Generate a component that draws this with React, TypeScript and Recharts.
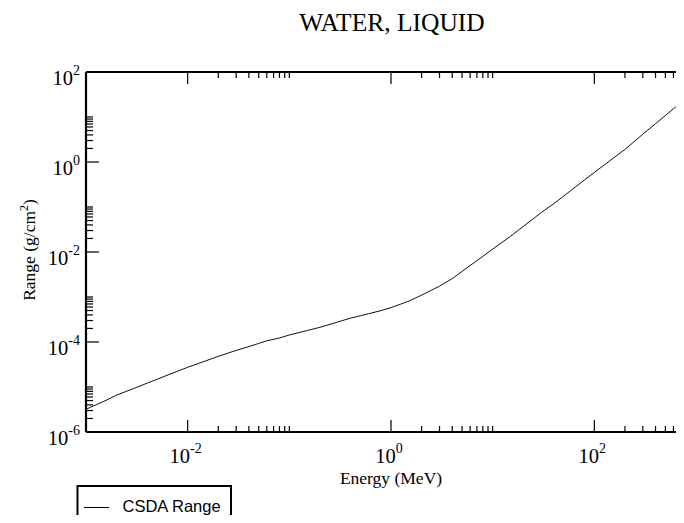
import React from 'react';
import { LineChart, Line, XAxis, YAxis } from 'recharts';

// Energy (MeV) and CSDA range (g/cm^2)
const energies = [
  0.001, 0.0015, 0.002, 0.003, 0.004, 0.005, 0.006, 0.008,
  0.01, 0.015, 0.02, 0.03, 0.04, 0.05, 0.06, 0.08,
  0.1, 0.15, 0.2, 0.3, 0.4, 0.5, 0.6, 0.8,
  1, 1.5, 2, 3, 4, 5, 6, 8,
  10, 15, 20, 30, 40, 50, 60, 80,
  100, 150, 200, 300, 400, 500, 600, 800, 1000,
];
const csdaRange = [
  3.2e-6, 4.8e-6, 6.6e-6, 9.4e-6, 1.22e-5, 1.48e-5, 1.75e-5, 2.25e-5,
  2.74e-5, 3.8e-5, 4.8e-5, 6.5e-5, 7.9e-5, 9.3e-5, 1.06e-4, 1.23e-4,
  1.43e-4, 1.8e-4, 2.12e-4, 2.79e-4, 3.39e-4, 3.83e-4, 4.24e-4, 5.0e-4,
  5.8e-4, 8.1e-4, 1.1e-3, 1.74e-3, 2.56e-3, 3.7e-3, 5.0e-3, 8.0e-3,
  1.16e-2, 2.24e-2, 3.7e-2, 7.5e-2, 0.119, 0.175, 0.241, 0.4,
  0.586, 1.17, 1.9, 4.15, 7.1, 10.8, 15.2, 26.1, 39.8,
];

const xMajorTicks = [0.01, 1, 100];
const xMinorTicks = [
  0.02, 0.03, 0.04, 0.05, 0.06, 0.07, 0.08, 0.09, 0.1,
  2, 3, 4, 5, 6, 7, 8, 9, 10,
  200, 300, 400, 500, 600, 700, 800, 900, 1000,
];
const yMajorTicks = [1e-6, 1e-4, 1e-2, 1, 100];
const yMinorTicks = [
  2e-6, 3e-6, 4e-6, 5e-6, 6e-6, 7e-6, 8e-6, 9e-6, 1e-5,
  2e-4, 3e-4, 4e-4, 5e-4, 6e-4, 7e-4, 8e-4, 9e-4, 1e-3,
  2e-2, 3e-2, 4e-2, 5e-2, 6e-2, 7e-2, 8e-2, 9e-2, 1e-1,
  2, 3, 4, 5, 6, 7, 8, 9, 10,
];

const title = 'WATER, LIQUID';
const xLabel = 'Energy (MeV)';
const yLabelMain = 'Range (g/cm';
const yLabelSup = '2';
const yLabelEnd = ')';
const seriesName = 'CSDA Range';

const data = energies.map((e, i) => ({ e, r: csdaRange[i] }));
const xTicks = [...xMajorTicks, ...xMinorTicks].sort((a, b) => a - b);
const yTicks = [...yMajorTicks, ...yMinorTicks].sort((a, b) => a - b);

const SERIF = "'Liberation Serif', 'Times New Roman', Times, serif";
const SANS = "'Liberation Sans', Arial, Helvetica, sans-serif";
const TICK_FONT = 20.5;
const SUP_FONT = 14;

const isMajor = (arr: number[], v: number) => arr.some((m) => Math.abs(m - v) / m < 1e-9);
const expOf = (v: number) => Math.round(Math.log10(v));

const PowerLabel = ({ x, y, v, anchor }: { x: number; y: number; v: number; anchor: 'middle' | 'end' }) => (
  <text x={x} y={y} textAnchor={anchor} fontFamily={SERIF} fontSize={TICK_FONT} fill="#000">
    10
    <tspan dy={-10.5} fontSize={SUP_FONT}>{String(expOf(v))}</tspan>
  </text>
);

const BottomTick = (props: any) => {
  const { x, y, payload } = props;
  const v = payload.value;
  const major = isMajor(xMajorTicks, v);
  return (
    <g>
      <line x1={x} x2={x} y1={y} y2={y - (major ? 12 : 6)} stroke="#000" strokeWidth={1.2} />
      {major && <PowerLabel x={x - 2} y={y + 31} v={v} anchor="middle" />}
    </g>
  );
};

const TopTick = (props: any) => {
  const { x, y, payload } = props;
  const v = payload.value;
  const major = isMajor(xMajorTicks, v);
  return <line x1={x} x2={x} y1={y} y2={y + (major ? 12 : 6)} stroke="#000" strokeWidth={1.2} />;
};

const LeftTick = (props: any) => {
  const { x, y, payload } = props;
  const v = payload.value;
  const major = isMajor(yMajorTicks, v);
  return (
    <g>
      <line x1={x} x2={x + (major ? 13 : 7)} y1={y} y2={y} stroke="#000" strokeWidth={1.2} />
      {major && <PowerLabel x={x - 6} y={y + 13} v={v} anchor="end" />}
    </g>
  );
};

export default function App() {
  return (
    <div style={{ width: 676, height: 515, overflow: 'hidden', marginBottom: -8, background: '#fff' }}>
      <LineChart
        width={720}
        height={540}
        data={data}
        margin={{ top: 63, left: 77, right: 32, bottom: 115 }}
      >
        <XAxis
          dataKey="e"
          type="number"
          scale="log"
          domain={[0.001, 1000]}
          allowDataOverflow
          ticks={xTicks}
          interval={0}
          height={1}
          tickSize={0}
          tickMargin={0}
          tickLine={false}
          tick={<BottomTick />}
          axisLine={{ stroke: '#000', strokeWidth: 2.2 }}
        />
        <XAxis
          xAxisId="top"
          orientation="top"
          dataKey="e"
          type="number"
          scale="log"
          domain={[0.001, 1000]}
          allowDataOverflow
          ticks={xTicks}
          interval={0}
          height={1}
          tickSize={0}
          tickMargin={0}
          tickLine={false}
          tick={<TopTick />}
          axisLine={{ stroke: '#000', strokeWidth: 2.2 }}
        />
        <YAxis
          dataKey="r"
          type="number"
          scale="log"
          domain={[1e-6, 100]}
          allowDataOverflow
          ticks={yTicks}
          interval={0}
          width={1}
          tickSize={0}
          tickMargin={0}
          tickLine={false}
          tick={<LeftTick />}
          axisLine={{ stroke: '#000', strokeWidth: 2.2 }}
        />
        <Line
          type="linear"
          dataKey="r"
          stroke="#111"
          strokeWidth={1}
          dot={false}
          activeDot={false}
          isAnimationActive={false}
        />
        <text x={384} y={23} textAnchor="middle" fontFamily={SERIF} fontSize={25.5} fill="#000">
          {title}
        </text>
        <text x={383} y={476} textAnchor="middle" fontFamily={SERIF} fontSize={17.5} fill="#000">
          {xLabel}
        </text>
        <text
          x={27}
          y={242}
          textAnchor="middle"
          transform="rotate(-90 27 242)"
          fontFamily={SERIF}
          fontSize={17.5}
          fill="#000"
        >
          {yLabelMain}
          <tspan dy={-7} fontSize={12}>{yLabelSup}</tspan>
          <tspan dy={7}>{yLabelEnd}</tspan>
        </text>
        <g>
          <rect x={69.5} y={478} width={153.5} height={44} fill="#fff" stroke="#000" strokeWidth={2} />
          <line x1={76} x2={101} y1={499.5} y2={499.5} stroke="#000" strokeWidth={1} />
          <text x={114.5} y={503.5} fontFamily={SANS} fontSize={16.5} fill="#000">
            {seriesName}
          </text>
        </g>
      </LineChart>
    </div>
  );
}
